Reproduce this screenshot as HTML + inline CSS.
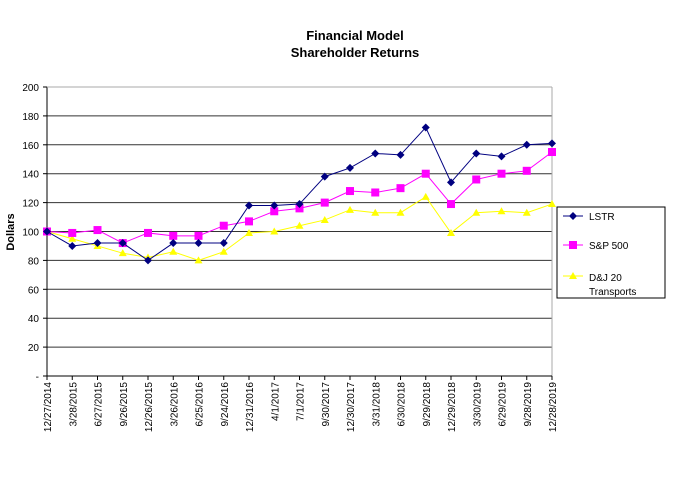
<!DOCTYPE html>
<html><head><meta charset="utf-8"><style>
body{margin:0;background:#fff;font-family:"Liberation Sans",Arial,sans-serif}
</style></head><body>
<svg id="c" width="691" height="488" xmlns="http://www.w3.org/2000/svg" font-family="Liberation Sans, Arial, sans-serif">
<text x="355" y="40" text-anchor="middle" font-size="13" font-weight="bold">Financial Model</text>
<text x="355" y="57" text-anchor="middle" font-size="13" font-weight="bold">Shareholder Returns</text>
<text transform="translate(14,232) rotate(-90)" text-anchor="middle" font-size="11" font-weight="bold">Dollars</text>
<g id="grid"></g><g id="series"></g>
<g>
<rect x="557" y="207" width="108" height="91" fill="#fff" stroke="#000" stroke-width="1"/>
<g><line x1="563" x2="583" y1="216" y2="216" stroke="#000080"/><path d="M573 212l4 4-4 4-4-4z" fill="#000080"/><text x="589" y="220" font-size="10">LSTR</text></g>
<g><line x1="563" x2="583" y1="245" y2="245" stroke="#ff00ff"/><rect x="569" y="241" width="8" height="8" fill="#ff00ff"/><text x="589" y="249" font-size="10">S&amp;P 500</text></g>
<g><line x1="563" x2="583" y1="276" y2="276" stroke="#ffff00"/><path d="M573 272l4 7h-8z" fill="#ffff00"/><text x="589" y="281" font-size="10">D&amp;J 20</text><text x="589" y="295" font-size="10">Transports</text></g>
</g>
</svg>
<script>
const categories=["12/27/2014","3/28/2015","6/27/2015","9/26/2015","12/26/2015","3/26/2016","6/25/2016","9/24/2016","12/31/2016","4/1/2017","7/1/2017","9/30/2017","12/30/2017","3/31/2018","6/30/2018","9/29/2018","12/29/2018","3/30/2019","6/29/2019","9/28/2019","12/28/2019"];
const lstr=[100,90,92,92,80,92,92,92,118,118,119,138,144,154,153,172,134,154,152,160,161];
const sp500=[100,99,101,92,99,97,97,104,107,114,116,120,128,127,130,140,119,136,140,142,155];
const dj20=[100,95,90,85,82,86,80,86,99,100,104,108,115,113,113,124,99,113,114,113,119];
const yTicks=[0,20,40,60,80,100,120,140,160,180,200];
const NS="http://www.w3.org/2000/svg";
const x0=47,x1=552,yTop=87,yBot=376;
const xs=i=>x0+i*(x1-x0)/(categories.length-1);
const ys=v=>yBot-v/200*(yBot-yTop);
function mk(t,a,p){const e=document.createElementNS(NS,t);for(const k in a)e.setAttribute(k,a[k]);p.appendChild(e);return e;}
const g=document.getElementById('grid'),s=document.getElementById('series');
yTicks.forEach(v=>{
 const y=ys(v);
 if(v>0){const l=mk('line',{x1:x0,x2:x1,y1:y,y2:y,stroke:'#333','stroke-width':1},g);
 
 }
 mk('line',{x1:x0-4,x2:x0,y1:y,y2:y,stroke:'#000'},g);
 const t=mk('text',{x:x0-8,y:y+4,'text-anchor':'end','font-size':10},g);t.textContent=v===0?'-':v;
 
 
});
mk('line',{x1:x0,x2:x0,y1:yTop,y2:yBot,stroke:'#000'},g);
mk('line',{x1:x1,x2:x1,y1:yTop,y2:yBot,stroke:'#aaa'},g);
mk('line',{x1:x0,x2:x1,y1:yTop,y2:yTop,stroke:'#aaa'},g);
mk('line',{x1:x0,x2:x1,y1:yBot,y2:yBot,stroke:'#000'},g);
categories.forEach((c,i)=>{
 const x=xs(i);
 mk('line',{x1:x,x2:x,y1:yBot,y2:yBot+4,stroke:'#000'},g);
 const t=mk('text',{transform:`translate(${x+4},${yBot+6}) rotate(-90)`,'text-anchor':'end','font-size':10},g);
 t.textContent=c;
 
 
});
function draw(data,color,shape,name){
 const grp=mk('g',{},s);
 
 
 mk('polyline',{points:data.map((v,i)=>xs(i)+','+ys(v)).join(' '),fill:'none',stroke:color,'stroke-width':1},grp);
 data.forEach((v,i)=>{
  const x=xs(i),y=ys(v);let m;
  if(shape==='d')m=mk('path',{d:`M${x} ${y-4}l4 4-4 4-4-4z`,fill:color},grp);
  else if(shape==='s')m=mk('rect',{x:x-4,y:y-4,width:8,height:8,fill:color},grp);
  else m=mk('path',{d:`M${x} ${y-4}l4 7h-8z`,fill:color},grp);
  
  
 });
}
draw(dj20,'#ffff00','t','dj20');
draw(sp500,'#ff00ff','s','sp500');
draw(lstr,'#000080','d','lstr');
</script>
</body></html>
